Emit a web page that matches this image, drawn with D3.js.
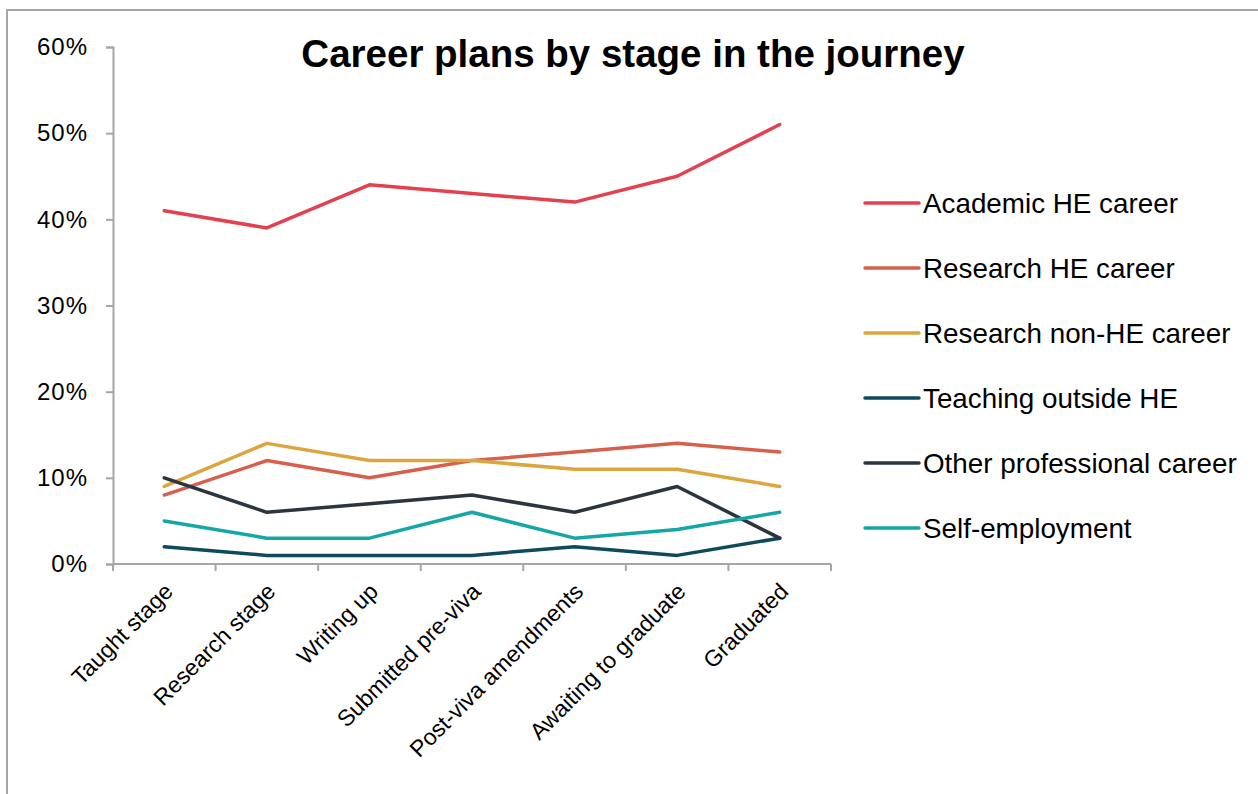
<!DOCTYPE html>
<html>
<head>
<meta charset="utf-8">
<script src="https://cdn.jsdelivr.net/npm/d3@7"></script>
<style>
  html, body { margin: 0; padding: 0; background: #fff; }
  svg { display: block; }
  text { font-family: "Liberation Sans", Arial, sans-serif; fill: #000; }
</style>
</head>
<body>
<svg id="chart" width="1258" height="794"></svg>
<script>
// Journey stages along the x axis
const stages = ["Taught stage", "Research stage", "Writing up", "Submitted pre-viva",
                "Post-viva amendments", "Awaiting to graduate", "Graduated"];

// Share of respondents (%) planning each career, per stage
const academicHE     = [41, 39, 44, 43, 42, 45, 51];
const researchHE     = [8, 12, 10, 12, 13, 14, 13];
const researchNonHE  = [9, 14, 12, 12, 11, 11, 9];
const teachingOutHE  = [2, 1, 1, 1, 2, 1, 3];
const otherProf      = [10, 6, 7, 8, 6, 9, 3];
const selfEmployment = [5, 3, 3, 6, 3, 4, 6];

const seriesNames  = ["Academic HE career", "Research HE career", "Research non-HE career",
                      "Teaching outside HE", "Other professional career", "Self-employment"];
const seriesValues = [academicHE, researchHE, researchNonHE, teachingOutHE, otherProf, selfEmployment];
const seriesColors = ["#e3414f", "#d6604b", "#dca63e", "#0d4a5c", "#2b3540", "#15a6a6"];

const yTicks = [0, 10, 20, 30, 40, 50, 60];

const svg = d3.select("#chart");
const axisGrey = "#a6a6a6";

// outer chart frame
svg.append("rect")
  .attr("x", 7).attr("y", 10)
  .attr("width", 1400).attr("height", 900)
  .attr("fill", "none").attr("stroke", axisGrey).attr("stroke-width", 2);

const plot = { left: 113, right: 831, top: 47, bottom: 564 };

const x = d3.scaleBand().domain(stages).range([plot.left, plot.right]);
const y = d3.scaleLinear().domain([0, 60]).range([plot.bottom, plot.top]);

// y axis
const yAxis = svg.append("g")
  .attr("transform", `translate(${plot.left},0)`)
  .call(d3.axisLeft(y).tickValues(yTicks).tickSize(7).tickPadding(18).tickFormat(d => d + "%"));
yAxis.select(".domain").attr("stroke", axisGrey).attr("stroke-width", 2);
yAxis.selectAll(".tick line").attr("stroke", axisGrey).attr("stroke-width", 2);
yAxis.selectAll(".tick text")
  .attr("font-family", "'Liberation Sans', Arial, sans-serif")
  .attr("font-size", 24).attr("fill", "#000").attr("letter-spacing", 1);

// x axis: ticks on category boundaries
const xAxisG = svg.append("g").attr("transform", `translate(0,${plot.bottom})`);
xAxisG.append("line")
  .attr("x1", plot.left).attr("x2", plot.right)
  .attr("stroke", axisGrey).attr("stroke-width", 2);
const boundaries = stages.map(s => x(s)).concat([x.range()[1]]);
xAxisG.selectAll("line.tick")
  .data(boundaries).join("line").attr("class", "tick")
  .attr("x1", d => d).attr("x2", d => d)
  .attr("y1", 0).attr("y2", 7)
  .attr("stroke", axisGrey).attr("stroke-width", 2);

// rotated stage labels
svg.append("g").selectAll("text")
  .data(stages).join("text")
  .attr("transform", d => `translate(${x(d) + x.bandwidth() / 2 + 10},${plot.bottom + 29}) rotate(-45)`)
  .attr("text-anchor", "end")
  .attr("font-size", 23)
  .text(d => d);

// series lines
const line = d3.line()
  .x((d, i) => x(stages[i]) + x.bandwidth() / 2)
  .y(d => y(d));

svg.append("g").selectAll("path")
  .data(seriesValues).join("path")
  .attr("d", d => line(d))
  .attr("fill", "none")
  .attr("stroke", (d, i) => seriesColors[i])
  .attr("stroke-width", 3.5)
  .attr("stroke-linejoin", "round")
  .attr("stroke-linecap", "round");

// title
svg.append("text")
  .attr("x", 633).attr("y", 67)
  .attr("text-anchor", "middle")
  .attr("font-size", 38.5).attr("font-weight", "bold")
  .text("Career plans by stage in the journey");

// legend
const legend = svg.append("g").selectAll("g")
  .data(seriesNames).join("g")
  .attr("transform", (d, i) => `translate(865,${203 + i * 65})`);
legend.append("line")
  .attr("x1", 0).attr("x2", 54)
  .attr("stroke", (d, i) => seriesColors[i])
  .attr("stroke-width", 3.5)
  .attr("stroke-linecap", "round");
legend.append("text")
  .attr("x", 58).attr("y", 10)
  .attr("font-size", 27.8)
  .text(d => d);
</script>
</body>
</html>
